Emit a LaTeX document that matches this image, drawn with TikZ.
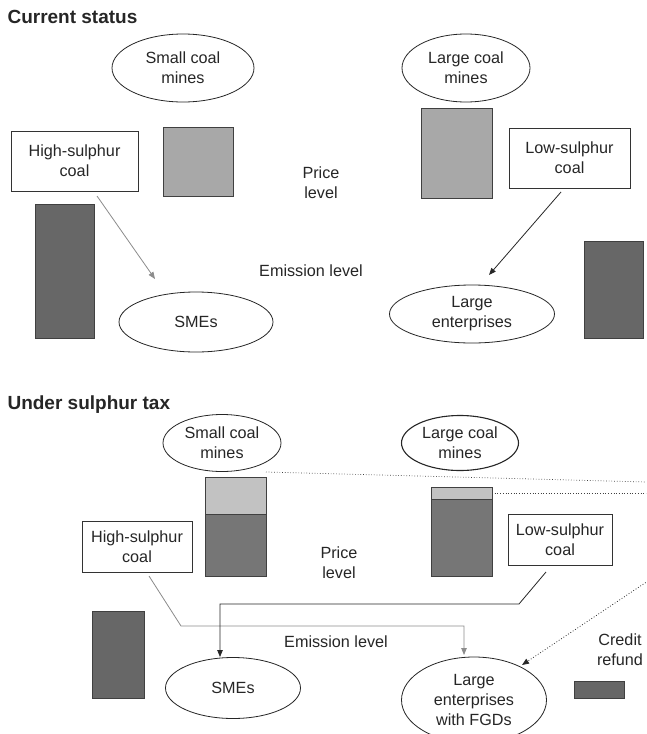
\documentclass[tikz,border=0pt]{standalone}
\usepackage{fontspec}
\setmainfont{Liberation Sans}
\usetikzlibrary{shapes.geometric,arrows.meta}
\definecolor{lightA}{HTML}{A8A8A8}
\definecolor{darkA}{HTML}{676767}
\definecolor{lightB}{HTML}{C2C2C2}
\definecolor{darkB}{HTML}{767676}
\definecolor{lineG}{HTML}{8C8C8C}
\tikzset{
  every node/.style={font=\fontsize{16.2}{20}\selectfont, text=black!85, align=center},
  oval/.style={ellipse, draw=black!85, line width=0.8pt, inner sep=0pt, outer sep=0pt},
  tbox/.style={rectangle, draw=black!80, line width=0.8pt, inner sep=0pt, outer sep=0pt},
  bar/.style={rectangle, draw=black!75, line width=0.8pt, inner sep=0pt, outer sep=0pt},
  heading/.style={font=\fontsize{19}{22}\selectfont\bfseries, anchor=west, text=black!85},
  plain/.style={inner sep=0pt},
  tipA/.style={-{Triangle[length=7pt,width=5.5pt]}},
}
\begin{document}
\begin{tikzpicture}[x=1pt,y=-1pt]
\clip (0,0) rectangle (646,734);
\fill[white] (0,0) rectangle (646,734);

% ---------------- Current status ----------------
\node[heading] (t1) at (4,17) {Current status};
\node[oval, minimum width=142pt, minimum height=68pt] (scm1) at (183,68) {Small coal\\mines};
\node[bar, fill=lightA, minimum width=70pt, minimum height=69pt] (lb1) at (198,161.5) {};
\node[tbox, minimum width=127pt, minimum height=60pt] (hs1) at (74.5,161) {High-sulphur\\coal};
\node[bar, fill=darkA, minimum width=59pt, minimum height=134pt] (db1) at (64.5,271) {};
\node[oval, minimum width=154pt, minimum height=60pt] (sme1) at (196,322) {SMEs};
\node[plain] (pr1) at (321,183) {Price\\level};
\node[plain] (em1) at (311,271) {Emission level};
\node[oval, minimum width=128pt, minimum height=68pt] (lcm1) at (466,68) {Large coal\\mines};
\node[bar, fill=lightA, minimum width=71pt, minimum height=90pt] (lb2) at (456.5,153) {};
\node[tbox, minimum width=121pt, minimum height=60pt] (ls1) at (569.5,158) {Low-sulphur\\coal};
\node[oval, minimum width=165pt, minimum height=58pt] (le1) at (472,314) {Large\\enterprises};
\node[bar, fill=darkA, minimum width=59pt, minimum height=97pt] (db2) at (613.5,289.5) {};

\coordinate (e1) at (155,279);
\coordinate (e2) at (489,275);
\draw[tipA, draw=lineG, line width=0.8pt] ([xshift=22.5pt,yshift=-5pt]hs1.south) -- (e1);
\draw[tipA, draw=black!85, line width=0.8pt] ([xshift=-8.5pt,yshift=-4pt]ls1.south) -- (e2);

% ---------------- Under sulphur tax ----------------
\node[heading] (t2) at (4,405) {Under sulphur tax};
\node[oval, minimum width=118pt, minimum height=57pt] (scm2) at (222,443) {Small coal\\mines};
\node[bar, fill=lightB, minimum width=61pt, minimum height=37pt] (sb1t) at (235.5,495.5) {};
\node[bar, fill=darkB, minimum width=61pt, minimum height=62pt] (sb1b) at (235.5,545) {};
\node[tbox, minimum width=110pt, minimum height=51pt] (hs2) at (137,546.5) {High-sulphur\\coal};
\node[bar, fill=darkA, minimum width=52pt, minimum height=87pt] (db3) at (118,654.5) {};
\node[oval, minimum width=135pt, minimum height=61pt] (sme2) at (233,688) {SMEs};
\node[plain] (pr2) at (339,563) {Price\\level};
\node[plain] (em2) at (336,642) {Emission level};
\node[oval, line width=1.1pt, minimum width=117pt, minimum height=55pt] (lcm2) at (460,443) {Large coal\\mines};
\node[bar, fill=lightB, minimum width=61pt, minimum height=12pt] (sb2t) at (461.5,493) {};
\node[bar, fill=darkB, minimum width=61pt, minimum height=77pt] (sb2b) at (461.5,537.5) {};
\node[tbox, minimum width=104pt, minimum height=51pt] (ls2) at (560,539.5) {Low-sulphur\\coal};
\node[oval, minimum width=145pt, minimum height=86pt] (le2) at (474,700) {Large\\enterprises\\with FGDs};
\node[plain] (cr) at (620,650) {Credit\\refund};
\node[bar, fill=darkA, minimum width=50pt, minimum height=17pt] (cb) at (599,689.5) {};

% dotted price lines
\coordinate (d1) at (646,482);
\coordinate (d2) at (646,493);
\draw[dotted, line width=0.7pt, black!75] ([yshift=5pt]sb1t.north east) -- (d1);
\draw[dotted, line width=0.7pt, black!75] (sb2t.east) -- (d2);

% connectors
\coordinate (g1) at (181,626);
\coordinate (g2) at (464,626);
\coordinate (g3) at (464,655);
\draw[tipA, draw=lineG, line width=0.8pt] ([xshift=12pt,yshift=-4pt]hs2.south) -- (g1) -- (g2) -- (g3);
\coordinate (k1) at (519,604);
\coordinate (k2) at (220,604);
\coordinate (k3) at (220,657);
\draw[tipA, draw=black!85, line width=0.8pt] ([xshift=-14pt,yshift=-7pt]ls2.south) -- (k1) -- (k2) -- (k3);
\coordinate (c0) at (648,581);
\coordinate (c1) at (522,665);
\draw[tipA, dotted, draw=black!85, line width=0.8pt] (c0) -- (c1);
\end{tikzpicture}
\end{document}
